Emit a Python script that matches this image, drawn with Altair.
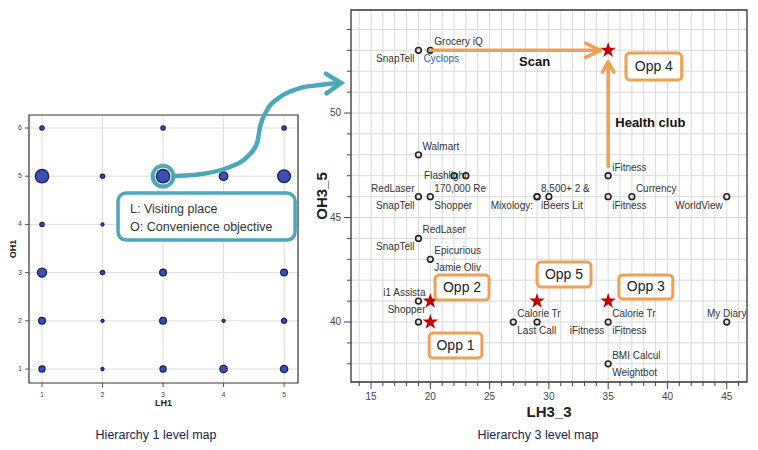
import altair as alt
import pandas as pd

FONT = "Liberation Sans"
TEAL = "#4aa8b8"
ORANGE = "#f0a055"
STAR_PATH = ("M0,-1L0.2245,-0.309L0.9511,-0.309L0.3633,0.118L0.5878,0.809L0,0.382"
             "L-0.5878,0.809L-0.3633,0.118L-0.9511,-0.309L-0.2245,-0.309Z")

# ---------------- Hierarchy 1 level map (left panel) ----------------
h1_lh = [1, 3, 5, 1, 2, 3, 4, 5, 1, 2, 1, 2, 3, 5, 1, 2, 3, 4, 5, 1, 2, 3, 4, 5]
h1_oh = [6, 6, 6, 5, 5, 5, 5, 5, 4, 4, 3, 3, 3, 3, 2, 2, 2, 2, 2, 1, 1, 1, 1, 1]
h1_n = [2, 2, 2, 20, 2, 20, 8, 18, 2, 1, 9, 2, 5, 5, 5, 1, 5, 1, 3, 4, 1, 4, 6, 6]
h1_ticks_x = [1, 2, 3, 4, 5]
h1_ticks_y = [1, 2, 3, 4, 5, 6]
h1_x_domain = [0.785, 5.23]
h1_y_domain = [0.71, 6.27]
h1_x_title = "LH1"
h1_y_title = "OH1"
focus_lh = [3]
focus_oh = [5]

note_lines = ["L: Visiting place", "O: Convenience objective"]
note_line_y = [4.32, 3.95]
note_left = 2.455
note_box_x = [2.256, 5.182]
note_box_y = [3.676, 4.651]

curve_x = [3.198, 3.496, 4.058, 4.388, 4.554, 4.603, 4.719, 4.934, 5.264, 5.595, 5.90]
curve_y = [5.004, 5.025, 5.170, 5.398, 5.689, 6.021, 6.373, 6.643, 6.830, 6.892, 6.934]
curve_head_x = [5.69, 5.942, 5.70]
curve_head_y = [7.13, 6.934, 6.72]

caption1 = ["Hierarchy 1 level map"]
caption1_x = [2.884]
caption1_y = [-0.37]

# ---------------- Hierarchy 3 level map (right panel) ----------------
h3_lh = [19, 20, 19, 22, 23, 19, 20, 29, 29, 30, 35, 37, 45, 35, 19, 20, 19, 19, 27, 29, 35, 45, 35]
h3_oh = [53, 53, 48, 47, 47, 46, 46, 46, 46, 46, 46, 46, 46, 47, 44, 43, 41, 40, 40, 40, 40, 40, 38]

lab_text = ["SnapTell", "Cyclops", "Grocery iQ", "Walmart", "Flashlight", "RedLaser", "SnapTell",
            "170,000 Re", "Shopper", "Mixology:", "8,500+ 2 &", "iBeers Lit", "iFitness", "Currency",
            "WorldView", "iFitness", "RedLaser", "SnapTell", "Epicurious", "Jamie Oliv", "i1 Assista",
            "Shopper", "Calorie Tr", "Last Call", "Calorie Tr", "iFitness", "iFitness", "My Diary",
            "BMI Calcul", "Weightbot"]
lab_x = [19, 19, 20, 19, 23, 19, 19, 20, 20, 29, 29, 29, 35, 37, 45, 35, 19, 19, 20, 20, 19, 19,
         27, 27, 35, 35, 35, 45, 35, 35]
lab_y = [53, 53, 53, 48, 47, 46, 46, 46, 46, 46, 46, 46, 46, 46, 46, 47, 44, 44, 43, 43, 41, 41,
         40, 40, 40, 40, 40, 40, 38, 38]
lab_pos = ["BL", "BRb", "AR", "AR", "L", "AL", "BL", "AR", "BR", "BL", "AR", "BR", "BR", "AR", "BL",
           "AR", "AR", "BL", "AR", "BR", "ALn", "BLn", "AR", "BR", "AR", "BL", "BR", "AC", "AR", "BR"]

star_x = [20, 20, 29, 35, 35]
star_y = [41, 40, 41, 41, 53]

opp_text = ["Opp 1", "Opp 2", "Opp 3", "Opp 4", "Opp 5"]
opp_x1 = [19.9, 20.4, 35.9, 36.5, 29.0]
opp_x2 = [24.35, 24.95, 40.45, 41.2, 33.55]
opp_y1 = [38.28, 41.05, 41.1, 51.58, 41.67]
opp_y2 = [39.47, 42.25, 42.25, 52.87, 42.87]

# arrow strokes: shaft, barb, barb for "Scan" then for "Health club"
arrow_x1 = [20.0, 33.1, 33.1, 35.0, 34.52, 35.48]
arrow_y1 = [53.0, 53.34, 52.66, 47.45, 51.95, 51.95]
arrow_x2 = [34.3, 34.35, 34.35, 35.0, 35.0, 35.0]
arrow_y2 = [53.0, 53.0, 53.0, 52.4, 52.45, 52.45]

arrow_labels = ["Scan", "Health club"]
arrow_label_x = [28.8, 35.6]
arrow_label_y = [52.44, 49.5]

caption3 = ["Hierarchy 3 level map"]
caption3_x = [29.08]
caption3_y = [34.59]

h3_x_domain = [13.31, 46.71]
h3_y_domain = [37.13, 54.93]
h3_minor_x = list(range(14, 47))
h3_minor_y = list(range(38, 55))
h3_major_x = [15, 20, 25, 30, 35, 40, 45]
h3_major_y = [40, 45, 50]
h3_x_title = "LH3_3"
h3_y_title = "OH3_5"

# panel placement inside the single drawing area (pixels)
L_XRANGE = [21, 290]
L_YRANGE = [375, 107]
R_XRANGE = [343, 739]
R_YRANGE = [374, 2]

# pixels per data unit (used to turn tick lengths into data offsets)
L_PX_X = (L_XRANGE[1] - L_XRANGE[0]) / (h1_x_domain[1] - h1_x_domain[0])
L_PX_Y = (L_YRANGE[0] - L_YRANGE[1]) / (h1_y_domain[1] - h1_y_domain[0])
R_PX_X = (R_XRANGE[1] - R_XRANGE[0]) / (h3_x_domain[1] - h3_x_domain[0])
R_PX_Y = (R_YRANGE[0] - R_YRANGE[1]) / (h3_y_domain[1] - h3_y_domain[0])


def xs1():
    return alt.Scale(domain=h1_x_domain, range=L_XRANGE, nice=False, zero=False)


def ys1():
    return alt.Scale(domain=h1_y_domain, range=L_YRANGE, nice=False, zero=False)


def xs3():
    return alt.Scale(domain=h3_x_domain, range=R_XRANGE, nice=False, zero=False)


def ys3():
    return alt.Scale(domain=h3_y_domain, range=R_YRANGE, nice=False, zero=False)


def X1(f):
    return alt.X(f, scale=xs1(), axis=None)


def Y1(f):
    return alt.Y(f, scale=ys1(), axis=None)


def X3(f):
    return alt.X(f, scale=xs3(), axis=None)


def Y3(f):
    return alt.Y(f, scale=ys3(), axis=None)


# ================= left panel =================
grid_v = pd.DataFrame({"x": h1_ticks_x, "y": h1_y_domain[0], "y2": h1_y_domain[1]})
grid_h = pd.DataFrame({"y": h1_ticks_y, "x": h1_x_domain[0], "x2": h1_x_domain[1]})
frame1 = pd.DataFrame({"x": [h1_x_domain[0]], "x2": [h1_x_domain[1]],
                       "y": [h1_y_domain[0]], "y2": [h1_y_domain[1]]})

l_gv = alt.Chart(grid_v).mark_rule(color="#dddddd", strokeWidth=1).encode(
    x=X1("x:Q"), y=Y1("y:Q"), y2="y2:Q")
l_gh = alt.Chart(grid_h).mark_rule(color="#dddddd", strokeWidth=1).encode(
    y=Y1("y:Q"), x=X1("x:Q"), x2="x2:Q")
l_frame = alt.Chart(frame1).mark_rect(fill="white", fillOpacity=0, stroke="#333333",
                                      strokeWidth=1.2).encode(
    x=X1("x:Q"), x2="x2:Q", y=Y1("y:Q"), y2="y2:Q")

# axis ticks, labels and titles
l_xt = pd.DataFrame({"x": h1_ticks_x, "y": h1_y_domain[0],
                     "y2": h1_y_domain[0] - 4 / L_PX_Y,
                     "t": [str(v) for v in h1_ticks_x]})
l_yt = pd.DataFrame({"y": h1_ticks_y, "x": h1_x_domain[0] - 4 / L_PX_X,
                     "x2": h1_x_domain[0], "t": [str(v) for v in h1_ticks_y]})
l_xtick = alt.Chart(l_xt).mark_rule(color="#555555", strokeWidth=1).encode(
    x=X1("x:Q"), y=Y1("y:Q"), y2="y2:Q")
l_ytick = alt.Chart(l_yt).mark_rule(color="#555555", strokeWidth=1).encode(
    y=Y1("y:Q"), x=X1("x:Q"), x2="x2:Q")
l_xlab = alt.Chart(l_xt).mark_text(fontSize=7, color="#444444", font=FONT, dy=12,
                                   baseline="middle").encode(
    x=X1("x:Q"), y=Y1("y:Q"), text="t:N")
l_ylab = alt.Chart(l_yt).mark_text(fontSize=7, color="#444444", font=FONT, dx=-3,
                                   align="right", baseline="middle").encode(
    x=X1("x:Q"), y=Y1("y:Q"), text="t:N")
l_titles = pd.DataFrame({"t": [h1_x_title], "x": [sum(h1_x_domain) / 2],
                         "y": [h1_y_domain[0]]})
l_xtitle = alt.Chart(l_titles).mark_text(fontSize=9, fontWeight="bold", color="#222222",
                                         font=FONT, dy=20, baseline="middle").encode(
    x=X1("x:Q"), y=Y1("y:Q"), text="t:N")
l_ytitles = pd.DataFrame({"t": [h1_y_title], "x": [h1_x_domain[0] - 16 / L_PX_X],
                          "y": [sum(h1_y_domain) / 2]})
l_ytitle = alt.Chart(l_ytitles).mark_text(fontSize=9, fontWeight="bold", color="#222222",
                                          font=FONT, angle=270, baseline="middle").encode(
    x=X1("x:Q"), y=Y1("y:Q"), text="t:N")

bub = pd.DataFrame({"lh": h1_lh, "oh": h1_oh, "n": h1_n})
l_bub = alt.Chart(bub).mark_circle(color="#3c50b4", opacity=1, stroke="#1b1f5c",
                                    strokeWidth=1.3).encode(
    x=X1("lh:Q"), y=Y1("oh:Q"),
    size=alt.Size("n:Q", scale=alt.Scale(domain=[0, 20], range=[0, 180]), legend=None))

focus = pd.DataFrame({"lh": focus_lh, "oh": focus_oh})
l_ring = alt.Chart(focus).mark_point(shape="circle", filled=False, size=430, stroke=TEAL,
                                     strokeWidth=4, opacity=1).encode(
    x=X1("lh:Q"), y=Y1("oh:Q"))

curve = pd.DataFrame({"x": curve_x, "y": curve_y, "o": list(range(len(curve_x)))})
l_curve = alt.Chart(curve).mark_line(color=TEAL, strokeWidth=4.5, interpolate="monotone",
                                     strokeCap="round").encode(
    x=X1("x:Q"), y=Y1("y:Q"), order="o:Q")
head = pd.DataFrame({"x": curve_head_x, "y": curve_head_y, "o": [0, 1, 2]})
l_head = alt.Chart(head).mark_line(color=TEAL, strokeWidth=4.5, strokeCap="round",
                                   strokeJoin="miter").encode(
    x=X1("x:Q"), y=Y1("y:Q"), order="o:Q")

nbox = pd.DataFrame({"x": [note_box_x[0]], "x2": [note_box_x[1]],
                     "y": [note_box_y[0]], "y2": [note_box_y[1]]})
l_nbox = alt.Chart(nbox).mark_rect(fill="white", stroke=TEAL, strokeWidth=3.5,
                                   cornerRadius=8).encode(
    x=X1("x:Q"), x2="x2:Q", y=Y1("y:Q"), y2="y2:Q")
ntext = pd.DataFrame({"t": note_lines, "y": note_line_y, "x": note_left})
l_ntext = alt.Chart(ntext).mark_text(align="left", baseline="middle", fontSize=12.5,
                                     color="#333333", font=FONT).encode(
    x=X1("x:Q"), y=Y1("y:Q"), text="t:N")

cap1 = pd.DataFrame({"t": caption1, "x": caption1_x, "y": caption1_y})
l_cap = alt.Chart(cap1).mark_text(fontSize=12.5, color="#222244", font=FONT,
                                  baseline="middle").encode(
    x=X1("x:Q"), y=Y1("y:Q"), text="t:N")

left = alt.layer(l_gv, l_gh, l_frame, l_xtick, l_ytick, l_xlab, l_ylab, l_xtitle, l_ytitle,
                 l_bub, l_ring, l_curve, l_head, l_nbox, l_ntext, l_cap)

# ================= right panel: grid, frame, ticks =================
rgrid_v = pd.DataFrame({"x": h3_minor_x, "y": h3_y_domain[0], "y2": h3_y_domain[1]})
rgrid_h = pd.DataFrame({"y": h3_minor_y, "x": h3_x_domain[0], "x2": h3_x_domain[1]})
frame3 = pd.DataFrame({"x": [h3_x_domain[0]], "x2": [h3_x_domain[1]],
                       "y": [h3_y_domain[0]], "y2": [h3_y_domain[1]]})

r_gv = alt.Chart(rgrid_v).mark_rule(color="#d8d8d8", strokeWidth=1).encode(
    x=X3("x:Q"), y=Y3("y:Q"), y2="y2:Q")
r_gh = alt.Chart(rgrid_h).mark_rule(color="#d8d8d8", strokeWidth=1).encode(
    y=Y3("y:Q"), x=X3("x:Q"), x2="x2:Q")
r_frame = alt.Chart(frame3).mark_rect(fill="white", fillOpacity=0, stroke="#333333",
                                      strokeWidth=1.3).encode(
    x=X3("x:Q"), x2="x2:Q", y=Y3("y:Q"), y2="y2:Q")

r_xt = pd.DataFrame({"x": h3_minor_x, "y": h3_y_domain[0],
                     "y2": [h3_y_domain[0] - (7 if v in h3_major_x else 4) / R_PX_Y
                            for v in h3_minor_x]})
r_yt = pd.DataFrame({"y": h3_minor_y, "x2": h3_x_domain[0],
                     "x": [h3_x_domain[0] - (7 if v in h3_major_y else 4) / R_PX_X
                           for v in h3_minor_y]})
r_xtick = alt.Chart(r_xt).mark_rule(color="#444444", strokeWidth=1).encode(
    x=X3("x:Q"), y=Y3("y:Q"), y2="y2:Q")
r_ytick = alt.Chart(r_yt).mark_rule(color="#444444", strokeWidth=1).encode(
    y=Y3("y:Q"), x=X3("x:Q"), x2="x2:Q")

r_xl = pd.DataFrame({"x": h3_major_x, "y": h3_y_domain[0], "t": [str(v) for v in h3_major_x]})
r_yl = pd.DataFrame({"y": h3_major_y, "x": h3_x_domain[0], "t": [str(v) for v in h3_major_y]})
r_xlab = alt.Chart(r_xl).mark_text(fontSize=10, color="#444444", font=FONT, dy=15,
                                   baseline="middle").encode(
    x=X3("x:Q"), y=Y3("y:Q"), text="t:N")
r_ylab = alt.Chart(r_yl).mark_text(fontSize=10, color="#444444", font=FONT, dx=-10,
                                   align="right", baseline="middle").encode(
    x=X3("x:Q"), y=Y3("y:Q"), text="t:N")
r_xt_title = pd.DataFrame({"t": [h3_x_title], "x": [sum(h3_x_domain) / 2],
                           "y": [h3_y_domain[0]]})
r_xtitle = alt.Chart(r_xt_title).mark_text(fontSize=15, fontWeight="bold", color="#222222",
                                           font=FONT, dy=30, baseline="middle").encode(
    x=X3("x:Q"), y=Y3("y:Q"), text="t:N")
r_yt_title = pd.DataFrame({"t": [h3_y_title], "x": [h3_x_domain[0] - 29 / R_PX_X],
                           "y": [sum(h3_y_domain) / 2]})
r_ytitle = alt.Chart(r_yt_title).mark_text(fontSize=15, fontWeight="bold", color="#222222",
                                           font=FONT, angle=270, baseline="middle").encode(
    x=X3("x:Q"), y=Y3("y:Q"), text="t:N")

right_grid = alt.layer(r_gv, r_gh, r_frame, r_xtick, r_ytick, r_xlab, r_ylab, r_xtitle,
                       r_ytitle)

# ================= right panel: data =================
pts = pd.DataFrame({"lh": h3_lh, "oh": h3_oh})
r_pts = alt.Chart(pts).mark_point(shape="circle", filled=False, size=32, stroke="#222222",
                                  strokeWidth=1.6, opacity=1).encode(
    x=X3("lh:Q"), y=Y3("oh:Q"))

labels = pd.DataFrame({"t": lab_text, "x": lab_x, "y": lab_y, "pos": lab_pos})
POS = {
    "AR": ("left", 4, -8, "#333333"),
    "BR": ("left", 4, 9, "#333333"),
    "BRb": ("left", 5, 9, "#3a5a9a"),
    "AL": ("right", -4, -8, "#333333"),
    "BL": ("right", -4, 9, "#333333"),
    "ALn": ("right", 7, -8, "#333333"),
    "BLn": ("right", 7, 9, "#333333"),
    "L": ("right", 1, 0, "#333333"),
    "AC": ("center", 0, -8, "#333333"),
}
label_layers = []
for key, (al, dx, dy, col) in POS.items():
    label_layers.append(
        alt.Chart(labels).transform_filter(alt.datum.pos == key).mark_text(
            align=al, baseline="middle", dx=dx, dy=dy, fontSize=10, font=FONT, color=col).encode(
            x=X3("x:Q"), y=Y3("y:Q"), text="t:N"))

arrows = pd.DataFrame({"x": arrow_x1, "y": arrow_y1, "x2": arrow_x2, "y2": arrow_y2})
r_arrows = alt.Chart(arrows).mark_rule(color=ORANGE, strokeWidth=3.5, strokeCap="round").encode(
    x=X3("x:Q"), y=Y3("y:Q"), x2="x2:Q", y2="y2:Q")

stars = pd.DataFrame({"x": star_x, "y": star_y})
r_stars = alt.Chart(stars).mark_point(shape=STAR_PATH, filled=True, size=270, color="#c00000",
                                      opacity=1).encode(
    x=X3("x:Q"), y=Y3("y:Q"))

opp = pd.DataFrame({"t": opp_text, "x": opp_x1, "x2": opp_x2, "y": opp_y1, "y2": opp_y2})
opp["cx"] = (opp["x"] + opp["x2"]) / 2
opp["cy"] = (opp["y"] + opp["y2"]) / 2
r_oppbox = alt.Chart(opp).mark_rect(fill="white", stroke=ORANGE, strokeWidth=3,
                                    cornerRadius=4).encode(
    x=X3("x:Q"), x2="x2:Q", y=Y3("y:Q"), y2="y2:Q")
r_opptext = alt.Chart(opp).mark_text(fontSize=14, font=FONT, color="#222222",
                                     baseline="middle").encode(
    x=X3("cx:Q"), y=Y3("cy:Q"), text="t:N")

alab = pd.DataFrame({"t": arrow_labels, "x": arrow_label_x, "y": arrow_label_y,
                     "a": ["center", "left"]})
r_scan = alt.Chart(alab).transform_filter(alt.datum.a == "center").mark_text(
    fontSize=13, fontWeight="bold", font=FONT, color="#111111", baseline="middle").encode(
    x=X3("x:Q"), y=Y3("y:Q"), text="t:N")
r_health = alt.Chart(alab).transform_filter(alt.datum.a == "left").mark_text(
    fontSize=13, fontWeight="bold", font=FONT, color="#111111", baseline="middle",
    align="left").encode(
    x=X3("x:Q"), y=Y3("y:Q"), text="t:N")

cap3 = pd.DataFrame({"t": caption3, "x": caption3_x, "y": caption3_y})
r_cap = alt.Chart(cap3).mark_text(fontSize=12.5, color="#222244", font=FONT,
                                  baseline="middle").encode(
    x=X3("x:Q"), y=Y3("y:Q"), text="t:N")

right = alt.layer(r_pts, *label_layers, r_arrows, r_stars, r_oppbox, r_opptext, r_scan,
                  r_health, r_cap)

chart = alt.layer(left, right_grid, right).resolve_scale(
    x="independent", y="independent"
).properties(
    width=742, height=374,
    autosize=alt.AutoSizeParams(type="none"),
    padding={"left": 0, "top": 0, "right": 0, "bottom": 60},
).configure(font=FONT).configure_view(stroke="transparent")

chart.save("out.html", embed_options={"renderer": "svg", "actions": False})
